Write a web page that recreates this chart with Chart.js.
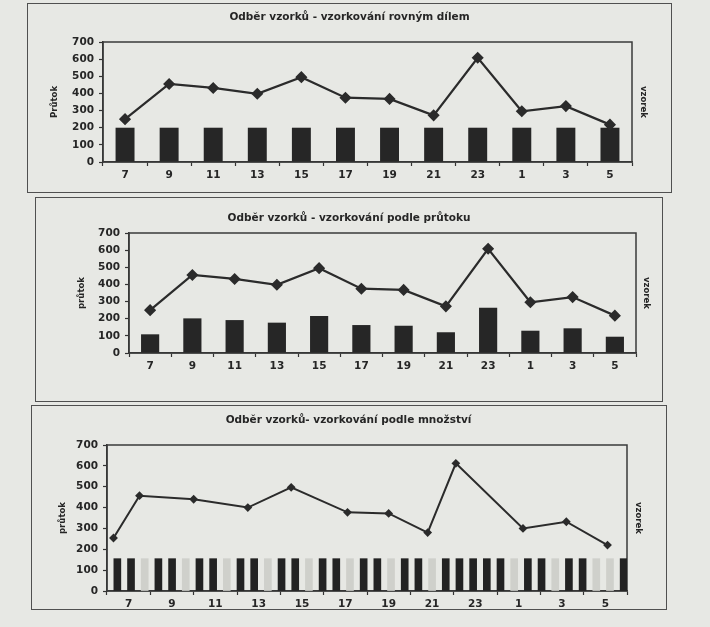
<!DOCTYPE html>
<html>
<head>
<meta charset="utf-8">
<script src="https://cdn.jsdelivr.net/npm/chart.js@4.4.1/dist/chart.umd.min.js"></script>
<style>
    html, body { margin: 0; padding: 0; background: #e7e8e4; }
    body { width: 710px; height: 627px; position: relative; overflow: hidden; }
    .frame { position: absolute; border: 1.5px solid #505050; box-sizing: border-box; }
    canvas { position: absolute; }
</style>
</head>
<body>
<div class="frame" style="left:27px; top:3px; width:645px; height:190px;"></div>
<canvas id="chart-equal" width="645" height="189" style="left:27px; top:3px;"></canvas>

<div class="frame" style="left:35px; top:197px; width:628px; height:205px;"></div>
<canvas id="chart-flow" width="628" height="204" style="left:35px; top:197px;"></canvas>

<div class="frame" style="left:31px; top:405px; width:636px; height:205px;"></div>
<canvas id="chart-qty" width="635" height="204" style="left:31px; top:405px;"></canvas>

<script>
// Data
const hourLabels = ['7', '9', '11', '13', '15', '17', '19', '21', '23', '1', '3', '5'];
const flowValues = [250, 455, 432, 398, 495, 375, 368, 272, 608, 296, 326, 218];
const equalSamples = [200, 200, 200, 200, 200, 200, 200, 200, 200, 200, 200, 200];
const flowSamples = [109, 202, 192, 177, 216, 163, 159, 121, 264, 130, 144, 95];

// third chart: flow measured at these clock hours, samples taken by volume
const qtyFlowHours = [6.3, 7.5, 10.0, 12.5, 14.5, 17.1, 19.0, 20.8, 22.1, 1.2, 3.2, 5.1];
const qtyFlowValues = [254, 457, 440, 400, 497, 377, 372, 280, 612, 300, 332, 220];
const qtySampleLabels = ['1', '2', '3', '4', '5', '6', '7', '8', '9', '10', '11', '12', '13',
    '14', '15', '16', '17', '18', '19', '20', '21', '22', '23', '24', '25', '26', '27', '28',
    '29', '30', '31', '32', '33', '34', '35', '36', '37', '38'];
const qtySamples = [155, 155, 155, 155, 155, 155, 155, 155, 155, 155, 155, 155, 155,
    155, 155, 155, 155, 155, 155, 155, 155, 155, 155, 155, 155, 155, 155, 155,
    155, 155, 155, 155, 155, 155, 155, 155, 155, 155];

// bars that came out pale in the scan
const paleBars = [2, 5, 8, 11, 14, 17, 20, 23, 29, 32, 35, 36];

const INK = '#262626';
const tickFont = { family: 'DejaVu Sans', weight: 'bold', size: 10.5 };
const titleFont = { family: 'DejaVu Sans', weight: 'bold', size: 10.5 };
const axisTitleFont = { family: "'DejaVu Sans Condensed', 'Liberation Sans', sans-serif", weight: 'bold', size: 9.5 };

// draws the box round the plot area
const plotBox = {
    id: 'plotBox',
    beforeDatasetsDraw(chart) {
        const { ctx, chartArea: a } = chart;
        ctx.save();
        ctx.strokeStyle = '#3a3a3a';
        ctx.lineWidth = 1.5;
        ctx.strokeRect(a.left, a.top, a.right - a.left, a.bottom - a.top);
        ctx.restore();
    }
};

function leftAxis(text, titlePad, width) {
    return {
        position: 'left',
        min: 0,
        max: 700,
        ticks: { stepSize: 100, color: INK, font: tickFont, padding: 5 },
        grid: { drawOnChartArea: false, tickLength: 4, tickColor: '#333', tickWidth: 1.2 },
        border: { color: '#333', width: 1.5 },
        title: { display: true, text: text, color: INK, font: axisTitleFont, padding: { top: titlePad, bottom: 0 } },
        afterFit: s => { s.width = width; }
    };
}

function rightAxis(titlePad, width) {
    return {
        position: 'right',
        min: 0,
        max: 700,
        ticks: { display: false },
        grid: { display: false },
        border: { display: false },
        title: { display: true, text: 'vzorek', color: INK, font: axisTitleFont, padding: { top: titlePad, bottom: 0 } },
        afterFit: s => { s.width = width; }
    };
}

function hourAxis(height, extra) {
    return Object.assign({
        type: 'category',
        offset: true,
        grid: { offset: true, drawOnChartArea: false, tickLength: 4, tickColor: '#333', tickWidth: 1.2 },
        border: { color: '#333', width: 1.5 },
        ticks: { color: INK, font: tickFont, padding: 3, maxRotation: 0, autoSkip: false },
        afterFit: s => { s.height = height; }
    }, extra || {});
}

function titlePlugin(text, top, bottom) {
    return {
        legend: { display: false },
        tooltip: { enabled: false },
        title: { display: true, text: text, color: INK, font: titleFont, padding: { top: top, bottom: bottom } }
    };
}

function flowLine(extra) {
    return Object.assign({
        type: 'line',
        order: 0,
        borderColor: '#2b2b2b',
        borderWidth: 2.2,
        pointStyle: 'rectRot',
        pointRadius: 4.5,
        pointBackgroundColor: '#2b2b2b',
        pointBorderColor: '#2b2b2b',
        tension: 0
    }, extra);
}

function sampleBars(data) {
    return {
        type: 'bar',
        order: 1,
        data: data,
        backgroundColor: INK,
        barPercentage: 0.43,
        categoryPercentage: 1
    };
}

const baseOptions = {
    responsive: false,
    animation: false,
    layout: { padding: 0 }
};

// 1) equal portions
new Chart(document.getElementById('chart-equal'), {
    type: 'bar',
    data: {
        labels: hourLabels,
        datasets: [flowLine({ data: flowValues }), sampleBars(equalSamples)]
    },
    options: Object.assign({}, baseOptions, {
        plugins: titlePlugin('Odběr vzorků - vzorkování rovným dílem', 7.7, 18.7),
        scales: {
            x: hourAxis(30),
            y: leftAxis('Průtok', 22, 76),
            y1: rightAxis(23, 40)
        }
    }),
    plugins: [plotBox]
});

// 2) flow proportional
new Chart(document.getElementById('chart-flow'), {
    type: 'bar',
    data: {
        labels: hourLabels,
        datasets: [flowLine({ data: flowValues }), sampleBars(flowSamples)]
    },
    options: Object.assign({}, baseOptions, {
        plugins: titlePlugin('Odběr vzorků - vzorkování podle průtoku', 14.7, 8.7),
        scales: {
            x: hourAxis(48),
            y: leftAxis('průtok', 41, 94),
            y1: rightAxis(11, 27)
        }
    }),
    plugins: [plotBox]
});

// 3) by quantity - line on a time axis, samples on their own axis
const qtyPoints = qtyFlowHours.map((h, i) => ({ x: h < 6 ? h + 24 : h, y: qtyFlowValues[i] }));

new Chart(document.getElementById('chart-qty'), {
    type: 'bar',
    data: {
        datasets: [
            flowLine({ data: qtyPoints, xAxisID: 'xt', pointRadius: 3, borderWidth: 2 }),
            {
                type: 'bar',
                order: 1,
                xAxisID: 'xs',
                data: qtySamples,
                backgroundColor: ctx => paleBars.includes(ctx.dataIndex) ? '#cfd0cb' : '#222',
                barThickness: 7
            }
        ]
    },
    options: Object.assign({}, baseOptions, {
        plugins: titlePlugin('Odběr vzorků- vzorkování podle množství', 8.7, 18.7),
        scales: {
            x: hourAxis(18, { labels: hourLabels }),
            xs: { type: 'category', labels: qtySampleLabels, offset: true, display: false },
            xt: { type: 'linear', min: 6, max: 30, offset: false, display: false },
            y: leftAxis('průtok', 26, 76),
            y1: rightAxis(22, 39)
        }
    }),
    plugins: [plotBox]
});
</script>
</body>
</html>
